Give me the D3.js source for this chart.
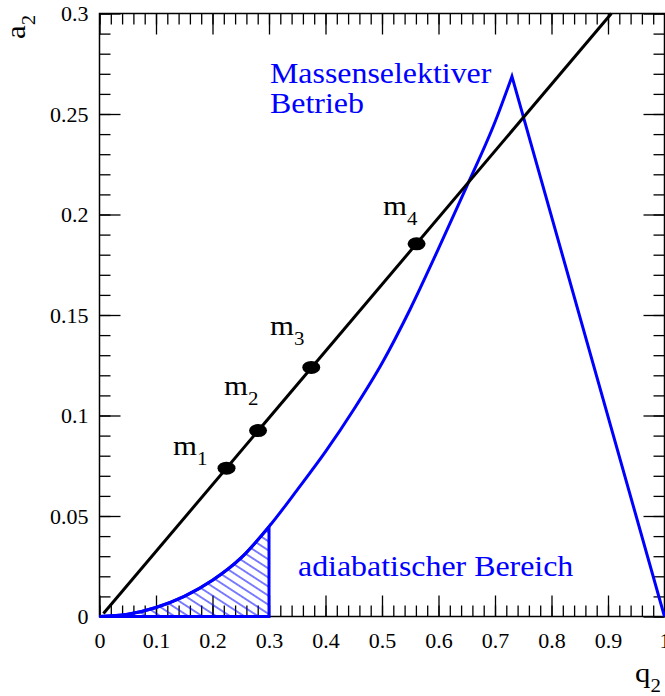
<!DOCTYPE html>
<html>
<head>
<meta charset="utf-8">
<script src="https://cdn.jsdelivr.net/npm/d3@7"></script>
<style>
  html, body { margin: 0; padding: 0; background: #fff; }
  svg text { font-family: "Liberation Serif", "Times New Roman", Times, "DejaVu Serif", serif !important; }
</style>
</head>
<body>
<div id="chart"></div>
<script>
// axis ticks
const qMajor = [0, 0.1, 0.2, 0.3, 0.4, 0.5, 0.6, 0.7, 0.8, 0.9, 1];
const qLabels = ["0", "0.1", "0.2", "0.3", "0.4", "0.5", "0.6", "0.7", "0.8", "0.9", "1"];
const aMajor = [0, 0.05, 0.1, 0.15, 0.2, 0.25, 0.3];
const aLabels = ["0", "0.05", "0.1", "0.15", "0.2", "0.25", "0.3"];
const qMinorStep = 0.02;
const aMinorStep = 0.01;

// stability boundary
const boundaryQ = [0, 0.05, 0.1, 0.15, 0.2, 0.25, 0.3, 0.35, 0.4, 0.45, 0.5, 0.55, 0.6, 0.65, 0.7, 0.73, 1.0];
const boundaryA = [0, 0.0011, 0.0045, 0.0100, 0.0180, 0.0290, 0.0447, 0.063, 0.082, 0.103, 0.126, 0.153, 0.183, 0.214, 0.246, 0.2687, 0];

// adiabatic region limit
const adiabaticQ = 0.3;

// scan line and mass points
const scanQ = [0.007, 0.906];
const scanA = [0.0015, 0.3];
const massQ = [0.2248, 0.2806, 0.3748, 0.5612];
const massA = [0.0738, 0.0925, 0.1239, 0.1854];
const massSub = ["1", "2", "3", "4"];

const W = 665, H = 696;
const FONT = '"Liberation Serif", "Times New Roman", Times, "DejaVu Serif", serif';
const x = d3.scaleLinear().domain([0, 1]).range([99.5, 664.5]);
const y = d3.scaleLinear().domain([0, 0.3]).range([616.5, 13.5]);
const blue = "#0000ff";
const SX = 1.1; // horizontal text stretch

const svg = d3.select("#chart").append("svg")
  .attr("width", W).attr("height", H);

// hatch pattern
svg.append("defs").append("pattern")
  .attr("id", "hatch")
  .attr("patternUnits", "userSpaceOnUse")
  .attr("width", 20).attr("height", 7.6)
  .attr("patternTransform", "rotate(33)")
  .append("line")
  .attr("x1", 0).attr("x2", 20).attr("y1", 3.8).attr("y2", 3.8)
  .attr("stroke", blue).attr("stroke-width", 1);

const range = (a, b, s) => d3.range(Math.round((b - a) / s) + 1).map(i => +(a + i * s).toFixed(4));
const qMinor = range(0, 1, qMinorStep);
const aMinor = range(0, 0.3, aMinorStep);

// ticks: bottom / top / left / right, all pointing inward
function tickAxis(axis, tr, size, vals, labels) {
  const g = svg.append("g").attr("transform", tr)
    .call(axis.tickValues(vals).tickSize(size).tickPadding(labels ? 5 : 0)
      .tickFormat(labels ? (d, i) => labels[i] : () => ""));
  g.attr("font-family", FONT);
  g.select(".domain").remove();
  g.selectAll("line").attr("stroke", "#000").attr("stroke-width", 1.3);
  return g;
}
const pb = y(0), pt = y(0.3), pl = x(0), pr = x(1);
tickAxis(d3.axisBottom(x), `translate(0,${pb})`, -11, qMinor);
const xg = tickAxis(d3.axisBottom(x), `translate(0,${pb})`, -21, qMajor, qLabels);
tickAxis(d3.axisTop(x), `translate(0,${pt})`, -11, qMinor);
tickAxis(d3.axisTop(x), `translate(0,${pt})`, -21, qMajor);
tickAxis(d3.axisLeft(y), `translate(${pl},0)`, -11, aMinor);
const yg = tickAxis(d3.axisLeft(y), `translate(${pl},0)`, -21, aMajor, aLabels);
tickAxis(d3.axisRight(y), `translate(${pr},0)`, -11, aMinor);
tickAxis(d3.axisRight(y), `translate(${pr},0)`, -21, aMajor);

xg.selectAll("text")
  .attr("font-size", 20).attr("fill", "#000").attr("font-family", FONT)
  .attr("y", 0).attr("dy", 0)
  .attr("transform", `translate(0,31) scale(${SX},1)`);
yg.selectAll("text")
  .attr("font-size", 20).attr("fill", "#000").attr("font-family", FONT)
  .attr("x", 0).attr("dy", 0)
  .attr("transform", `translate(-11,7) scale(${SX},1)`);

// frame
svg.append("rect")
  .attr("x", pl).attr("y", pt).attr("width", pr - pl).attr("height", pb - pt)
  .attr("fill", "none").attr("stroke", "#000").attr("stroke-width", 1.5);

// adiabatic hatched region
const pts = boundaryQ.map((q, i) => [q, boundaryA[i]]);
const smooth = d3.line().x(d => x(d[0])).y(d => y(d[1])).curve(d3.curveMonotoneX);
const line = d3.line().x(d => x(d[0])).y(d => y(d[1]));
const region = pts.filter(p => p[0] <= adiabaticQ);
svg.append("path")
  .attr("d", smooth(region) + "L" + x(adiabaticQ) + "," + y(0) + "Z")
  .attr("fill", "url(#hatch)")
  .attr("stroke", blue).attr("stroke-width", 3).attr("stroke-linejoin", "miter");

// stability boundary
const last = pts[pts.length - 1];
svg.append("path")
  .attr("d", smooth(pts.slice(0, -1)) + "L" + x(last[0]) + "," + y(last[1]))
  .attr("fill", "none").attr("stroke", blue).attr("stroke-width", 3)
  .attr("stroke-linejoin", "miter");

// scan line
svg.append("path")
  .attr("d", line(scanQ.map((q, i) => [q, scanA[i]])))
  .attr("stroke", "#000").attr("stroke-width", 3).attr("fill", "none");

// mass points
svg.selectAll(".mass").data(massQ).enter().append("ellipse")
  .attr("cx", d => x(d)).attr("cy", (d, i) => y(massA[i]))
  .attr("rx", 9).attr("ry", 6.5).attr("fill", "#000");

function label(px, py, main, sub, size, subSize, subDy, color, rot) {
  const t = svg.append("text")
    .attr("transform", `translate(${px},${py})` + (rot ? ` rotate(${rot})` : "") + ` scale(${SX},1)`)
    .attr("font-family", FONT)
    .attr("font-size", size).attr("fill", color);
  t.append("tspan").text(main);
  if (sub) t.append("tspan").attr("font-size", subSize).attr("dy", subDy).text(sub);
  return t;
}

const massLabelPos = [[173, 455], [224, 395], [270, 335], [383, 215]];
massSub.forEach((s, i) => label(massLabelPos[i][0], massLabelPos[i][1], "m", s, 28, 19, 10, "#000"));

// axis titles
label(25, 39, "a", "2", 28, 19, 10, "#000", -90);
label(635, 682, "q", "2", 28, 19, 10, "#000");

// annotations
label(270, 83, "Massenselektiver", null, 29, 0, 0, blue);
label(270, 113, "Betrieb", null, 29, 0, 0, blue);
label(298, 576, "adiabatischer Bereich", null, 29, 0, 0, blue);
</script>
</body>
</html>
